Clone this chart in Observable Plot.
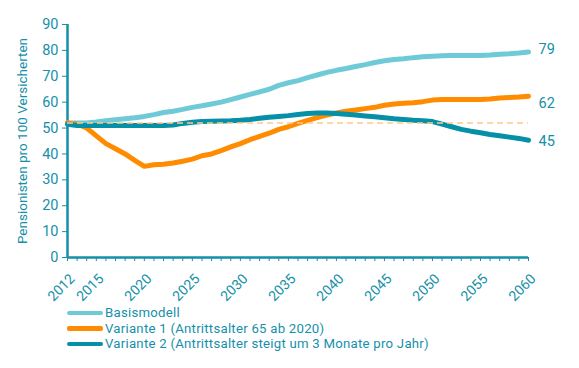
<!DOCTYPE html>
<html>
<head>
<meta charset="utf-8">
<script src="https://cdn.jsdelivr.net/npm/d3@7"></script>
<script src="https://cdn.jsdelivr.net/npm/@observablehq/plot@0.6"></script>
<style>
  body { margin: 0; background: #fff; font-family: Roboto, sans-serif; }
  #legend { margin-left: 67px; margin-top: -1px; color: #1590aa; font-size: 13.2px; line-height: 15.5px; letter-spacing: 0.25px; }
  .row { display: flex; align-items: center; height: 15.5px; line-height: 15.5px; }
  .row .lbl { display: block; height: 15.5px; line-height: 15.5px; white-space: nowrap; }
  .sw { display: block; width: 36px; height: 4.5px; border-radius: 2px; margin-right: 2px; }
  #chart svg { display: block; }
</style>
</head>
<body>
<div id="chart"></div>
<div id="legend"></div>
<script>
const years = d3.range(2012, 2061);
const basismodell = [52, 52, 52, 52.3, 52.8, 53.2, 53.6, 54, 54.5, 55.2, 56, 56.5, 57.2, 58, 58.6, 59.3, 60, 61, 62, 63, 64, 65, 66.5, 67.5, 68.3, 69.5, 70.5, 71.5, 72.3, 73, 73.8, 74.5, 75.3, 76, 76.5, 76.8, 77.2, 77.5, 77.7, 77.9, 78, 78, 78, 78, 78.2, 78.5, 78.7, 79, 79.4];
const variante1 = [52, 51.5, 50, 47, 44, 42, 40, 37.5, 35.2, 35.8, 36, 36.5, 37.2, 38, 39.3, 40, 41.3, 42.7, 44, 45.5, 46.8, 48, 49.5, 50.5, 51.8, 53, 54, 55, 55.8, 56.5, 57, 57.5, 58, 58.8, 59.3, 59.6, 59.8, 60.2, 60.8, 61, 61, 61, 61, 61, 61.2, 61.6, 61.8, 62, 62.3];
const variante2 = [51.5, 51, 51, 51, 51, 51, 51, 51, 51, 51, 51, 51.2, 51.8, 52.2, 52.5, 52.6, 52.7, 52.8, 53, 53.3, 53.8, 54.2, 54.5, 54.8, 55.2, 55.6, 55.8, 55.8, 55.6, 55.3, 55, 54.7, 54.4, 54, 53.6, 53.3, 53, 52.8, 52.5, 51.5, 50.5, 49.5, 48.8, 48.2, 47.5, 47, 46.5, 46, 45.3];
const referenceLevel = 52;
const seriesNames = ["Basismodell", "Variante 1 (Antrittsalter 65 ab 2020)", "Variante 2 (Antrittsalter steigt um 3 Monate pro Jahr)"];
const endLabels = ["79", "62", "45"];
const xTickLabels = [2012, 2015, 2020, 2025, 2030, 2035, 2040, 2045, 2050, 2055, 2060];
const yTicks = d3.range(0, 91, 10);
const yTitle = "Pensionisten pro 100 Versicherten";

const colors = ["#6ecad7", "#ff8c00", "#0590a8"];
const teal = "#1590aa";
const allSeries = [basismodell, variante1, variante2];
const rows = allSeries.flatMap((vals, i) => vals.map((v, j) => ({year: years[j], value: v, series: seriesNames[i]})));
const lastIdx = years.length - 1;

const lineMark = (i) => Plot.line(rows.filter(d => d.series === seriesNames[i]), {
  x: "year", y: "value", stroke: colors[i], strokeWidth: 5, curve: "linear", strokeLinecap: "round", strokeLinejoin: "round"
});
const endText = (i, dy) => Plot.text([{year: years[lastIdx], value: allSeries[i][lastIdx], label: endLabels[i]}], {
  x: "year", y: "value", text: "label", dx: 10, dy, textAnchor: "start", fill: teal, fontSize: 14.5
});

const plot = Plot.plot({
  width: 579,
  height: 306,
  marginLeft: 67,
  marginRight: 51,
  marginTop: 24,
  marginBottom: 49,
  style: {fontFamily: "Roboto, sans-serif", color: teal, background: "#fff", overflow: "visible"},
  x: {domain: [2012, 2060]},
  y: {domain: [0, 90]},
  marks: [
    Plot.axisY({ticks: yTicks, tickSize: 5, tickPadding: 4, fontSize: 14.5, label: null, stroke: teal, color: teal}),
    Plot.axisX({ticks: years, tickSize: 4, tickFormat: () => "", label: null, stroke: teal}),
    Plot.axisX({ticks: xTickLabels, tickSize: 0, tickRotate: -45, tickFormat: d => String(d), fontSize: 14, tickPadding: 8, dx: 5, dy: 11, label: null, color: teal}),
    Plot.ruleX([2012], {stroke: teal, strokeWidth: 2.5}),
    Plot.ruleY([0], {stroke: teal, strokeWidth: 2.5}),
    lineMark(0),
    lineMark(1),
    lineMark(2),
    Plot.ruleY([referenceLevel], {x1: 2012, x2: 2060, stroke: "#ffc98a", strokeWidth: 1.5, strokeDasharray: "6,4"}),
    endText(0, -3),
    endText(1, 7),
    endText(2, 1),
    Plot.text([yTitle], {frameAnchor: "left", rotate: -90, dx: -45, fill: teal, fontSize: 13.5, textAnchor: "middle"})
  ]
});
document.getElementById("chart").appendChild(plot);

const legend = document.getElementById("legend");
seriesNames.forEach((name, i) => {
  const row = document.createElement("div");
  row.className = "row";
  const sw = document.createElement("span");
  sw.className = "sw";
  sw.style.background = colors[i];
  const t = document.createElement("span");
  t.className = "lbl";
  t.textContent = name;
  row.appendChild(sw);
  row.appendChild(t);
  legend.appendChild(row);
});
</script>
</body>
</html>
